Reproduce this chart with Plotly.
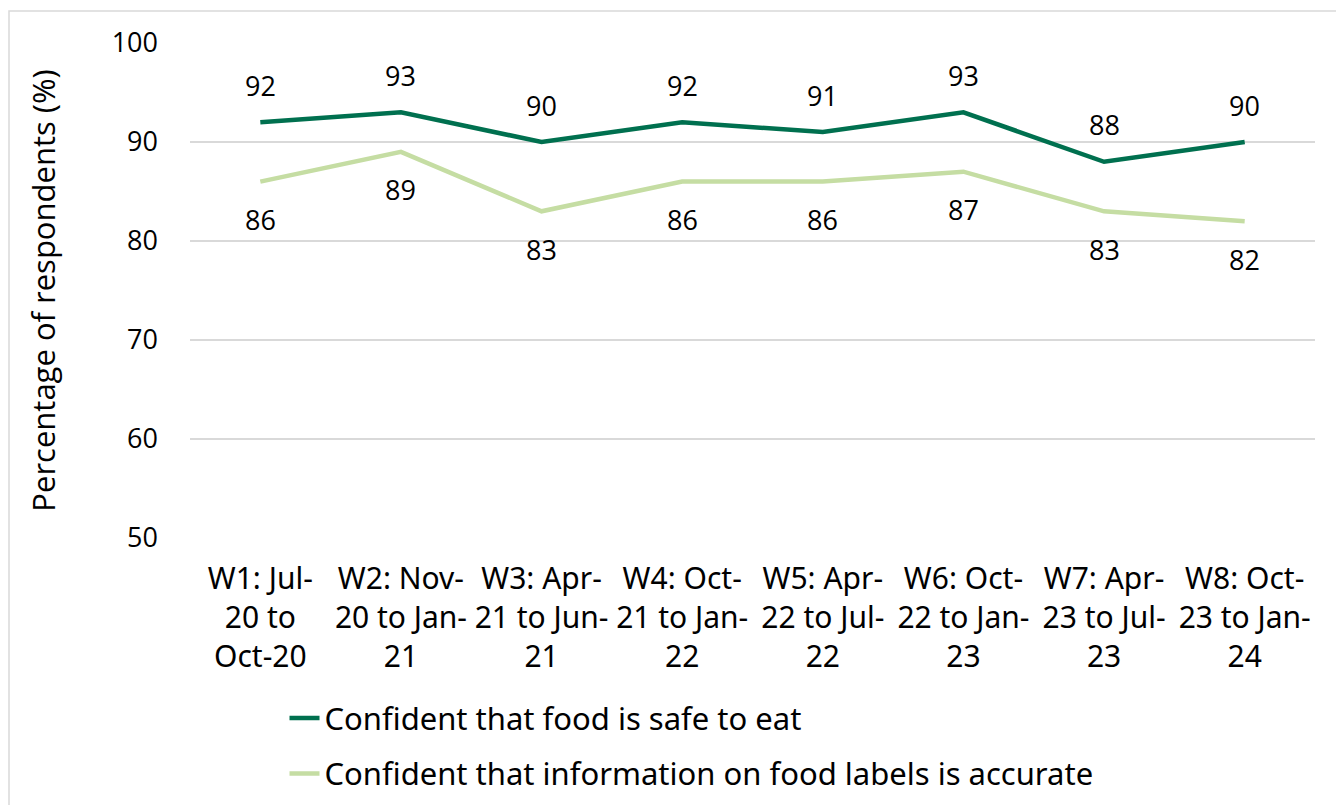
import plotly.graph_objects as go

categories = [
    "W1: Jul-<br>20 to<br>Oct-20",
    "W2: Nov-<br>20 to Jan-<br>21",
    "W3: Apr-<br>21 to Jun-<br>21",
    "W4: Oct-<br>21 to Jan-<br>22",
    "W5: Apr-<br>22 to Jul-<br>22",
    "W6: Oct-<br>22 to Jan-<br>23",
    "W7: Apr-<br>23 to Jul-<br>23",
    "W8: Oct-<br>23 to Jan-<br>24",
]
safe_to_eat = [92, 93, 90, 92, 91, 93, 88, 90]
labels_accurate = [86, 89, 83, 86, 86, 87, 83, 82]
series_names = [
    "Confident that food is safe to eat",
    "Confident that information on food labels is accurate",
]
y_ticks = [50, 60, 70, 80, 90, 100]

DARK = "#00704F"
LIGHT = "#C5DDA3"
FONT = "Open Sans"
FONT2 = "Noto Sans"

fig = go.Figure()
fig.add_trace(go.Scatter(x=categories, y=safe_to_eat, mode="lines", name=series_names[0],
                         line=dict(color=DARK, width=4.5), legendgroup="a"))
fig.add_trace(go.Scatter(x=categories, y=labels_accurate, mode="lines", name=series_names[1],
                         line=dict(color=LIGHT, width=4.5), legendgroup="b"))

annotations = []
for c, v in zip(categories, safe_to_eat):
    annotations.append(dict(x=c, y=v, text=str(v), showarrow=False, yshift=37,
                            font=dict(family=FONT, size=27, color="#000")))
for c, v in zip(categories, labels_accurate):
    annotations.append(dict(x=c, y=v, text=str(v), showarrow=False, yshift=-38,
                            font=dict(family=FONT, size=27, color="#000")))

fig.update_layout(
    width=1336, height=805,
    margin=dict(l=190, r=21, t=43, b=267, autoexpand=False),
    paper_bgcolor="white", plot_bgcolor="white",
    showlegend=True,
    legend=dict(x=0.084, xanchor="left", y=-0.31, yanchor="top",
                font=dict(family=FONT2, size=31, color="#000"),
                tracegroupgap=12, bgcolor="rgba(0,0,0,0)"),
    annotations=annotations,
    shapes=[dict(type="rect", xref="paper", yref="paper",
                 x0=(9 - 190) / 1125, x1=(1345 - 190) / 1125,
                 y0=(538 - 815) / 495, y1=(538 - 11) / 495,
                 line=dict(color="#D9D9D9", width=1.5), fillcolor="rgba(0,0,0,0)", layer="below")],
)
fig.update_xaxes(range=[-0.5, 7.5], automargin=False, showgrid=False, showline=False, zeroline=False,
                 tickfont=dict(family=FONT2, size=30, color="#000"),
                 ticklabelstandoff=20)
fig.update_yaxes(range=[50, 100], tickvals=y_ticks, automargin=False, showgrid=True, gridcolor="#D9D9D9",
                 gridwidth=1.5, zeroline=False, showline=False,
                 tickfont=dict(family=FONT, size=27, color="#000"),
                 ticklabelstandoff=31,
                 title=dict(text="Percentage of respondents (%)",
                            font=dict(family=FONT, size=31, color="#000"), standoff=46))

fig.write_html("out.html")
